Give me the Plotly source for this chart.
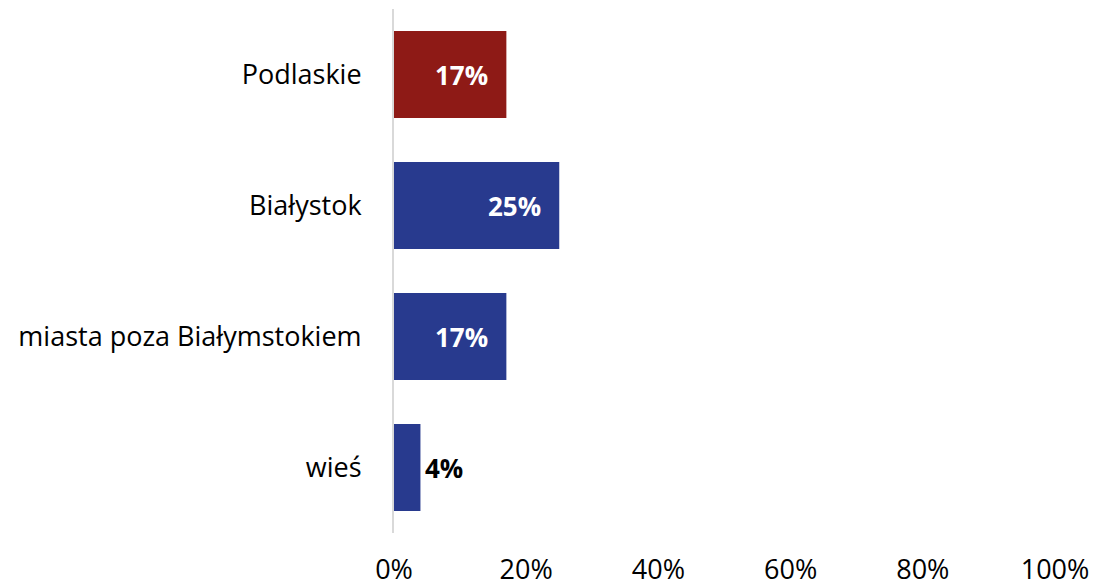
import plotly.graph_objects as go

categories = ["Podlaskie", "Białystok", "miasta poza Białymstokiem", "wieś"]
values = [17, 25, 17, 4]
labels = ["17%", "25%", "17%", "4%"]
colors = ["#8E1A16", "#283A8E", "#283A8E", "#283A8E"]
x_ticks = [0, 20, 40, 60, 80, 100]
x_ticklabels = ["0%", "20%", "40%", "60%", "80%", "100%"]

FONT = "Open Sans"

fig = go.Figure(go.Bar(
    y=categories, x=values, orientation="h",
    marker=dict(color=colors, line=dict(width=0)),
    width=0.664,
    hoverinfo="skip",
))

annotations = []
for c, v, t in zip(categories, values, labels):
    if v >= 10:
        annotations.append(dict(x=v, y=c, text="<b>%s</b>" % t, showarrow=False,
                                xanchor="right", xshift=-16,
                                font=dict(family=FONT, size=26, color="white")))
    else:
        annotations.append(dict(x=v, y=c, text="<b>%s</b>" % t, showarrow=False,
                                xanchor="left", xshift=3,
                                font=dict(family=FONT, size=26, color="black")))

fig.update_layout(
    width=1095, height=586,
    margin=dict(l=394, r=40, t=9, b=53, pad=0),
    paper_bgcolor="white", plot_bgcolor="white",
    showlegend=False,
    annotations=annotations,
    xaxis=dict(range=[0, 100], tickvals=x_ticks, ticktext=x_ticklabels,
               showgrid=False, zeroline=False, showline=False, automargin=False,
               ticks="", ticklabelstandoff=18,
               tickfont=dict(family=FONT, size=27, color="black")),
    yaxis=dict(categoryorder="array", categoryarray=categories[::-1],
               showgrid=False, zeroline=False, showline=True, automargin=False,
               linecolor="#D9D9D9", linewidth=2,
               ticks="", ticklabelstandoff=25,
               tickfont=dict(family=FONT, size=27, color="black")),
)

fig.write_html("out.html",
               config={"displayModeBar": False, "staticPlot": True},
               post_script="document.body.style.margin='0';document.body.style.overflow='hidden';")
